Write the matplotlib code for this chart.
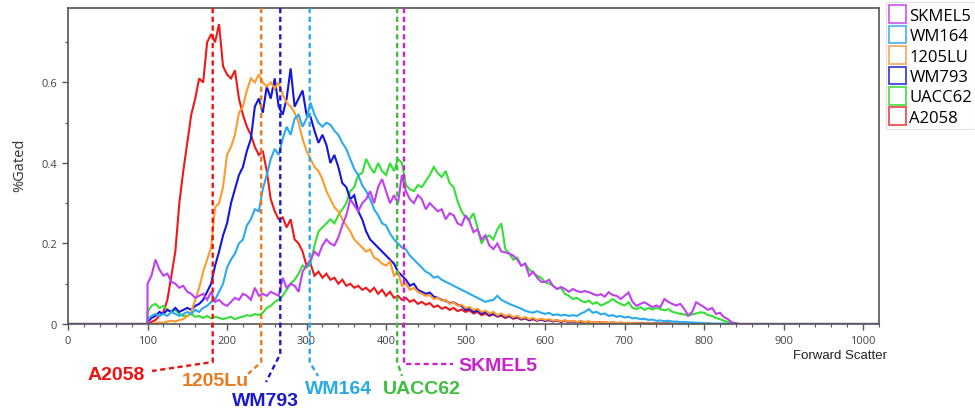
import matplotlib
matplotlib.use("Agg")
import matplotlib.pyplot as plt
from matplotlib.patches import Patch
from matplotlib.transforms import blended_transform_factory
import numpy as np

# ---------------- data ----------------
# bins: forward scatter from 100 to 850, every 5 units
bins = list(range(100, 855, 5))

a2058 = [
    0.000, 0.005, 0.010, 0.020, 0.030, 0.060, 0.120, 0.180, 0.300, 0.380,
    0.450, 0.520, 0.560, 0.610, 0.600, 0.700, 0.720, 0.700, 0.745, 0.640,
    0.620, 0.610, 0.630, 0.560, 0.520, 0.490, 0.470, 0.440, 0.420, 0.430,
    0.380, 0.310, 0.280, 0.260, 0.265, 0.240, 0.260, 0.210, 0.200, 0.180,
    0.145, 0.150, 0.120, 0.130, 0.115, 0.125, 0.110, 0.115, 0.100, 0.110,
    0.095, 0.100, 0.090, 0.095, 0.085, 0.090, 0.080, 0.090, 0.075, 0.085,
    0.070, 0.080, 0.065, 0.070, 0.060, 0.065, 0.055, 0.060, 0.050, 0.055,
    0.048, 0.052, 0.042, 0.046, 0.038, 0.042, 0.035, 0.040, 0.032, 0.036,
    0.030, 0.034, 0.026, 0.030, 0.022, 0.026, 0.020, 0.024, 0.018, 0.021,
    0.015, 0.019, 0.013, 0.016, 0.011, 0.014, 0.009, 0.012, 0.008, 0.011,
    0.008, 0.010, 0.006, 0.009, 0.005, 0.008, 0.005, 0.007, 0.004, 0.006,
    0.004, 0.006, 0.003, 0.005, 0.003, 0.004, 0.002, 0.004, 0.002, 0.003,
    0.002, 0.003, 0.001, 0.003, 0.001, 0.002, 0.001, 0.002, 0.001, 0.001,
    0.001, 0.002, 0.000, 0.001, 0.000, 0.001, 0.000, 0.001, 0.000, 0.000,
    0.000, 0.000, 0.000, 0.000, 0.000, 0.000, 0.000, 0.000, 0.000, 0.000,
    0.000]

lu1205 = [
    0.000, 0.000, 0.002, 0.004, 0.003, 0.006, 0.008, 0.006, 0.010, 0.012,
    0.020, 0.030, 0.060, 0.090, 0.130, 0.160, 0.190, 0.290, 0.300, 0.340,
    0.420, 0.440, 0.470, 0.525, 0.540, 0.580, 0.610, 0.600, 0.620, 0.600,
    0.590, 0.600, 0.585, 0.600, 0.570, 0.550, 0.540, 0.525, 0.500, 0.460,
    0.430, 0.410, 0.390, 0.380, 0.360, 0.330, 0.310, 0.290, 0.280, 0.260,
    0.245, 0.230, 0.210, 0.200, 0.190, 0.180, 0.185, 0.165, 0.160, 0.150,
    0.145, 0.155, 0.120, 0.130, 0.095, 0.100, 0.085, 0.090, 0.080, 0.075,
    0.070, 0.072, 0.062, 0.065, 0.058, 0.060, 0.050, 0.054, 0.045, 0.048,
    0.040, 0.042, 0.035, 0.038, 0.030, 0.033, 0.026, 0.030, 0.022, 0.026,
    0.020, 0.023, 0.017, 0.020, 0.014, 0.017, 0.012, 0.015, 0.010, 0.013,
    0.010, 0.012, 0.008, 0.010, 0.007, 0.009, 0.006, 0.008, 0.005, 0.007,
    0.005, 0.006, 0.004, 0.005, 0.003, 0.005, 0.003, 0.004, 0.002, 0.003,
    0.002, 0.003, 0.002, 0.002, 0.001, 0.002, 0.001, 0.002, 0.001, 0.001,
    0.001, 0.001, 0.000, 0.001, 0.000, 0.001, 0.000, 0.000, 0.000, 0.000,
    0.000, 0.000, 0.000, 0.000, 0.000, 0.000, 0.000, 0.000, 0.000, 0.000,
    0.000]

wm793 = [
    0.005, 0.015, 0.020, 0.030, 0.025, 0.035, 0.030, 0.040, 0.030, 0.035,
    0.040, 0.035, 0.045, 0.050, 0.060, 0.080, 0.100, 0.145, 0.180, 0.220,
    0.250, 0.300, 0.335, 0.370, 0.390, 0.430, 0.460, 0.540, 0.560, 0.525,
    0.590, 0.560, 0.610, 0.540, 0.520, 0.560, 0.635, 0.540, 0.560, 0.580,
    0.520, 0.515, 0.480, 0.450, 0.470, 0.445, 0.400, 0.420, 0.390, 0.350,
    0.340, 0.310, 0.320, 0.280, 0.260, 0.230, 0.210, 0.200, 0.190, 0.180,
    0.170, 0.160, 0.150, 0.130, 0.120, 0.110, 0.095, 0.100, 0.085, 0.080,
    0.075, 0.078, 0.068, 0.065, 0.060, 0.058, 0.052, 0.054, 0.048, 0.045,
    0.035, 0.038, 0.030, 0.034, 0.026, 0.030, 0.022, 0.026, 0.020, 0.023,
    0.018, 0.021, 0.015, 0.018, 0.012, 0.015, 0.010, 0.013, 0.009, 0.011,
    0.008, 0.010, 0.007, 0.009, 0.006, 0.008, 0.005, 0.007, 0.004, 0.006,
    0.004, 0.005, 0.003, 0.005, 0.003, 0.004, 0.002, 0.003, 0.002, 0.003,
    0.002, 0.002, 0.001, 0.002, 0.001, 0.002, 0.001, 0.001, 0.001, 0.001,
    0.001, 0.000, 0.001, 0.000, 0.000, 0.000, 0.000, 0.000, 0.000, 0.000,
    0.000, 0.000, 0.000, 0.000, 0.000, 0.000, 0.000, 0.000, 0.000, 0.000,
    0.000]

wm164 = [
    0.010, 0.020, 0.025, 0.020, 0.025, 0.020, 0.030, 0.025, 0.020, 0.025,
    0.030, 0.025, 0.035, 0.030, 0.040, 0.045, 0.055, 0.060, 0.080, 0.100,
    0.140, 0.160, 0.175, 0.200, 0.210, 0.245, 0.260, 0.285, 0.280, 0.335,
    0.370, 0.410, 0.435, 0.420, 0.460, 0.490, 0.470, 0.510, 0.520, 0.490,
    0.510, 0.550, 0.520, 0.500, 0.490, 0.500, 0.495, 0.480, 0.470, 0.450,
    0.435, 0.410, 0.385, 0.370, 0.345, 0.330, 0.310, 0.285, 0.270, 0.250,
    0.245, 0.225, 0.210, 0.200, 0.190, 0.185, 0.170, 0.160, 0.150, 0.140,
    0.130, 0.125, 0.115, 0.118, 0.110, 0.105, 0.100, 0.095, 0.090, 0.085,
    0.080, 0.075, 0.070, 0.065, 0.060, 0.055, 0.058, 0.060, 0.070, 0.060,
    0.055, 0.050, 0.046, 0.042, 0.038, 0.033, 0.030, 0.028, 0.032, 0.028,
    0.025, 0.028, 0.022, 0.024, 0.021, 0.023, 0.020, 0.022, 0.020, 0.026,
    0.030, 0.037, 0.028, 0.030, 0.024, 0.026, 0.020, 0.022, 0.018, 0.020,
    0.016, 0.018, 0.014, 0.015, 0.012, 0.013, 0.010, 0.011, 0.008, 0.009,
    0.007, 0.008, 0.006, 0.006, 0.005, 0.005, 0.004, 0.004, 0.003, 0.003,
    0.002, 0.002, 0.001, 0.001, 0.001, 0.001, 0.000, 0.000, 0.000, 0.000,
    0.000]

uacc62 = [
    0.030, 0.045, 0.050, 0.040, 0.045, 0.035, 0.030, 0.035, 0.025, 0.020,
    0.020, 0.025, 0.018, 0.020, 0.015, 0.020, 0.014, 0.018, 0.015, 0.012,
    0.015, 0.018, 0.012, 0.016, 0.018, 0.022, 0.020, 0.025, 0.022, 0.028,
    0.040, 0.045, 0.055, 0.060, 0.070, 0.085, 0.100, 0.110, 0.125, 0.145,
    0.140, 0.150, 0.195, 0.230, 0.240, 0.250, 0.260, 0.250, 0.270, 0.285,
    0.300, 0.330, 0.340, 0.370, 0.375, 0.410, 0.390, 0.375, 0.400, 0.380,
    0.370, 0.400, 0.380, 0.410, 0.400, 0.345, 0.335, 0.330, 0.345, 0.340,
    0.355, 0.370, 0.390, 0.375, 0.365, 0.380, 0.350, 0.340, 0.305, 0.280,
    0.265, 0.260, 0.275, 0.240, 0.200, 0.215, 0.220, 0.210, 0.235, 0.250,
    0.186, 0.175, 0.160, 0.165, 0.145, 0.150, 0.135, 0.128, 0.120, 0.115,
    0.104, 0.100, 0.095, 0.087, 0.090, 0.075, 0.070, 0.062, 0.065, 0.058,
    0.054, 0.058, 0.050, 0.054, 0.046, 0.050, 0.055, 0.062, 0.055, 0.050,
    0.046, 0.054, 0.040, 0.037, 0.042, 0.035, 0.040, 0.036, 0.040, 0.037,
    0.034, 0.037, 0.030, 0.028, 0.025, 0.024, 0.021, 0.024, 0.026, 0.029,
    0.028, 0.022, 0.020, 0.015, 0.012, 0.008, 0.005, 0.002, 0.001, 0.000,
    0.000]

skmel5 = [
    0.100, 0.120, 0.160, 0.135, 0.120, 0.125, 0.105, 0.100, 0.090, 0.095,
    0.080, 0.075, 0.065, 0.070, 0.075, 0.060, 0.080, 0.055, 0.060, 0.050,
    0.045, 0.055, 0.065, 0.060, 0.075, 0.070, 0.060, 0.090, 0.070, 0.075,
    0.070, 0.080, 0.075, 0.070, 0.115, 0.090, 0.100, 0.095, 0.080, 0.130,
    0.145, 0.160, 0.180, 0.170, 0.195, 0.210, 0.200, 0.195, 0.215, 0.245,
    0.270, 0.310, 0.295, 0.280, 0.300, 0.310, 0.330, 0.300, 0.340, 0.360,
    0.330, 0.300, 0.320, 0.300, 0.370, 0.330, 0.310, 0.300, 0.320, 0.310,
    0.285, 0.300, 0.290, 0.280, 0.285, 0.260, 0.275, 0.270, 0.250, 0.245,
    0.270, 0.255, 0.228, 0.235, 0.210, 0.220, 0.195, 0.186, 0.200, 0.180,
    0.178, 0.175, 0.170, 0.160, 0.145, 0.150, 0.120, 0.130, 0.115, 0.105,
    0.104, 0.110, 0.095, 0.087, 0.092, 0.087, 0.080, 0.087, 0.082, 0.079,
    0.082, 0.079, 0.075, 0.071, 0.074, 0.068, 0.079, 0.072, 0.070, 0.062,
    0.070, 0.078, 0.055, 0.045, 0.050, 0.054, 0.048, 0.042, 0.046, 0.042,
    0.062, 0.055, 0.050, 0.046, 0.050, 0.038, 0.021, 0.030, 0.054, 0.048,
    0.042, 0.035, 0.040, 0.025, 0.028, 0.017, 0.012, 0.004, 0.002, 0.000,
    0.000]

# drawing order (last on top) and legend order
series_names = ["A2058", "UACC62", "WM793", "1205LU", "WM164", "SKMEL5"]
series_values = [a2058, uacc62, wm793, lu1205, wm164, skmel5]
series_colors = ["#F01818", "#33E033", "#1515E0", "#FF9A2E", "#2AAAF0", "#C040F0"]
legend_order = ["SKMEL5", "WM164", "1205LU", "WM793", "UACC62", "A2058"]
legend_edge = {"SKMEL5": "#D060F0", "WM164": "#50B8F0", "1205LU": "#F5B060",
               "WM793": "#4040E0", "UACC62": "#50E050", "A2058": "#F05050"}

# annotated peak positions (forward scatter)
peak_labels = ["A2058", "1205Lu", "WM793", "WM164", "UACC62", "SKMEL5"]
peak_positions = [182, 243, 267, 304, 414, 423]
peak_colors = ["#EE1111", "#E87A22", "#1A1ACD", "#29ABE2", "#3DBE3D", "#CC22CC"]

x_ticks = [0, 100, 200, 300, 400, 500, 600, 700, 800, 900, 1000]
y_ticks = [0, 0.2, 0.4, 0.6]
y_tick_labels = ["0", "0.2", "0.4", "0.6"]

# ---------------- figure ----------------
W, H = 975, 414
fig = plt.figure(figsize=(W / 100, H / 100), dpi=100)
ax = fig.add_axes([68 / W, 1 - 325 / H, (879 - 68) / W, (325 - 9) / H])

x_min, x_max = 0, 1020
for name, vals, col in zip(series_names, series_values, series_colors):
    xs = [x_min, bins[0]] + bins + [bins[-1], x_max]
    ys = [0.0, 0.0] + vals + [0.0, 0.0]
    ax.plot(xs, ys, color=col, lw=1.5, solid_joinstyle="miter")

ax.set_xlim(x_min, x_max)
ax.set_ylim(0, 0.785)

ax.set_xticks(x_ticks)
ax.set_xticks(np.arange(0, 1021, 20), minor=True)
ax.set_yticks(y_ticks)
ax.set_yticklabels(y_tick_labels)
ax.set_yticks([0.1, 0.3, 0.5, 0.7], minor=True)
ax.tick_params(axis="both", which="major", direction="out", length=4, width=1,
               color="#555555", labelsize=8, labelcolor="#444444", pad=4)
ax.tick_params(axis="both", which="minor", direction="out", length=2, width=0.8,
               color="#555555")
for lab in ax.get_xticklabels() + ax.get_yticklabels():
    lab.set_family("Open Sans")
for s in ax.spines.values():
    s.set_color("#555555")
    s.set_linewidth(1.2)

fig.text(840 / W, 1 - 356 / H, "Forward Scatter", ha="center", va="center",
         fontsize=9.5, family="Liberation Sans", color="#222222")
fig.text(20 / W, 1 - 165 / H, "%Gated", ha="center", va="center", rotation=90,
         fontsize=10.5, family="Open Sans", color="#333333")

# dashed peak markers with leader lines and labels
trans = blended_transform_factory(ax.transData, ax.transAxes)
def xd(px):
    return (px - 68) / 0.795
def ya(py):
    return (325 - py) / 316.0

# leader geometry in pixels: (vertical end y, leader end x, leader end y, text x, text y, ha)
leaders = {
    "A2058":  (363, 152, 372, 116, 376, "center"),
    "1205Lu": (363, 248, 375, 215, 382, "center"),
    "WM793":  (355, 266, 383, 265, 402, "center"),
    "WM164":  (363, 318, 377, 339, 390, "center"),
    "UACC62": (363, 402, 377, 422, 390, "center"),
    "SKMEL5": (365, 453, 365, 458, 367, "left"),
}
for lab, pos, col in zip(peak_labels, peak_positions, peak_colors):
    vy, lx, ly, tx, ty, ha = leaders[lab]
    ax.plot([pos, pos, xd(lx)], [1.0, ya(vy), ya(ly)], transform=trans,
            color=col, lw=1.7, ls=(0, (2.2, 1.5)), clip_on=False, zorder=5)
    ax.text(xd(tx), ya(ty), lab, transform=trans, ha=ha, va="center",
            fontsize=14, fontweight="bold", family="Liberation Sans",
            color=col, clip_on=False)

handles = [Patch(facecolor="white", edgecolor=legend_edge[n], lw=1.3) for n in legend_order]
leg = fig.legend(handles, legend_order, loc="upper left",
                 bbox_to_anchor=(886 / W, 1 - 3 / H), frameon=True, fancybox=False,
                 handlelength=1.0, handleheight=1.25, handletextpad=0.2,
                 labelspacing=0.12, borderpad=0.2, borderaxespad=0,
                 prop={"family": "Open Sans", "size": 12})
leg.get_frame().set_edgecolor("#DDDDDD")
leg.get_frame().set_linewidth(0.8)

fig.savefig("out.png", dpi=100)
